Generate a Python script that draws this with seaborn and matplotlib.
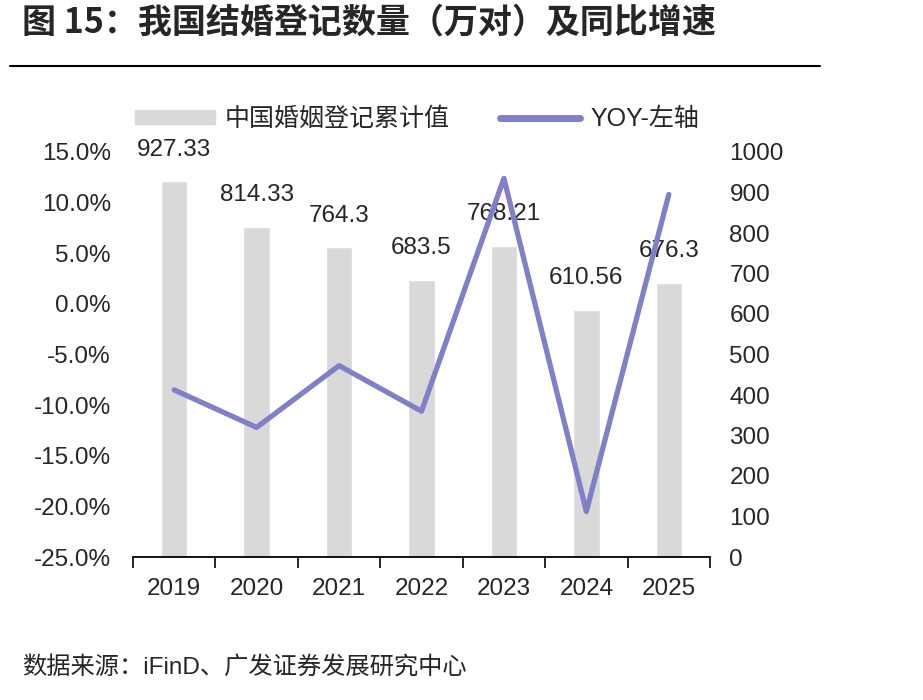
import matplotlib
matplotlib.use("Agg")
import matplotlib.pyplot as plt
from matplotlib.lines import Line2D
from matplotlib.patches import Rectangle
import seaborn as sns
import numpy as np
import pandas as pd

years = ["2019", "2020", "2021", "2022", "2023", "2024", "2025"]
marriages = [927.33, 814.33, 764.3, 683.5, 768.21, 610.56, 676.3]
bar_labels = ["927.33", "814.33", "764.3", "683.5", "768.21", "610.56", "676.3"]
yoy = [-8.5, -12.2, -6.1, -10.6, 12.4, -20.5, 10.8]
left_ticks = [-25, -20, -15, -10, -5, 0, 5, 10, 15]
right_ticks = [0, 100, 200, 300, 400, 500, 600, 700, 800, 900, 1000]

BAR_C = "#d9d9d9"
LINE_C = "#7f80c8"

sns.set_theme(style="white")
plt.rcParams['font.family'] = ['Liberation Sans', 'Noto Sans CJK SC', 'DejaVu Sans']

df = pd.DataFrame({"year": years, "value": marriages, "yoy": yoy,
                   "pos": np.arange(len(years))})

fig = plt.figure(figsize=(9.23, 7.0), dpi=100)
ax = fig.add_axes([133/923, 1 - 557/700, 577/923, 405/700])
sns.barplot(data=df, x="year", y="value", color=BAR_C, saturation=1,
            width=0.32, ax=ax)
ax.bar_label(ax.containers[0], labels=bar_labels, padding=15, fontsize=17.5)

ax2 = ax.twinx()
sns.lineplot(data=df, x="pos", y="yoy", color=LINE_C, lw=3.8, ax=ax2,
             legend=False)

ax.set_ylim(0, 1000)
ax2.set_ylim(-25, 15)
ax.set_xlim(-0.5, len(years) - 0.5)

ax.yaxis.tick_right()
ax2.yaxis.tick_left()
ax.set_yticks(right_ticks)
ax.set_yticklabels([str(t) for t in right_ticks])
ax2.set_yticks(left_ticks)
ax2.set_yticklabels([f"{t:.1f}%" for t in left_ticks])
ax.tick_params(axis='y', length=0, labelsize=17.5, pad=14)
ax2.tick_params(axis='y', length=0, labelsize=17.5, pad=16)

ax.set_xticks(np.arange(len(years)))
ax.set_xticklabels(years)
ax.set_xticks(np.arange(-0.5, len(years)), minor=True)
ax.tick_params(axis='x', which='major', length=0, labelsize=17.5, pad=15)
ax.tick_params(axis='x', which='minor', length=8, width=1.2, color='black',
               direction='out', bottom=True)
ax.set_xlabel("")
ax.set_ylabel("")
ax2.set_xlabel("")
ax2.set_ylabel("")
for a in (ax, ax2):
    for s in a.spines.values():
        s.set_visible(False)
ax.spines['bottom'].set_visible(True)
ax.spines['bottom'].set_color('black')
ax.spines['bottom'].set_linewidth(1.3)
ax.grid(False)
ax2.grid(False)

handles = [Rectangle((0, 0), 1, 1, color=BAR_C),
           Line2D([0], [0], color=LINE_C, lw=5, solid_capstyle='round')]
labels = ["中国婚姻登记累计值", "YOY-左轴"]
fig.legend(handles, labels, loc='center left', ncol=2, frameon=False,
           bbox_to_anchor=(135/923, 1 - 119/700), fontsize=18,
           handlelength=3.2, handleheight=0.5, handletextpad=0.4,
           columnspacing=2.0, borderaxespad=0, borderpad=0)

fig.text(22/923, 1 - 22/700, "图 15：我国结婚登记数量（万对）及同比增速",
         fontsize=24.5, fontweight='bold', va='center', ha='left',
         family=['Noto Sans CJK SC', 'DejaVu Sans'])
fig.add_artist(Line2D([10/923, 820/923], [1 - 66/700, 1 - 66/700],
                      color='black', lw=1.5))
fig.text(22/923, 1 - 668/700, "数据来源：iFinD、广发证券发展研究中心",
         fontsize=17.5, va='center', ha='left')

fig.savefig("out.png", dpi=100)
